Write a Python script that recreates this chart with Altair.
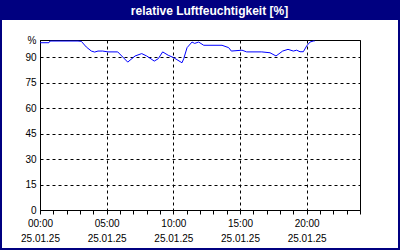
import altair as alt
import pandas as pd

hours = [0.0, 0.67, 0.75, 2.85, 3.1, 3.47, 3.85, 4.1, 4.35, 4.7, 5.1, 5.83, 6.58, 7.13,
         7.63, 8.0, 8.57, 8.87, 9.2, 9.62, 10.03, 10.65, 10.78, 11.03, 11.4, 11.6, 11.9,
         12.28, 13.65, 14.15, 14.35, 15.15, 15.5, 16.63, 17.25, 17.7, 18.2, 18.6, 19.0,
         19.25, 19.5, 19.75, 20.0, 20.25, 20.5, 20.6]
humidity = [98.4, 98.4, 99.4, 99.4, 99.2, 95.9, 93.5, 92.9, 93.5, 93.5, 93.0, 93.0, 87.0, 90.6,
            92.0, 90.6, 87.6, 89.0, 93.0, 91.0, 89.6, 86.6, 89.0, 95.5, 98.8, 98.0, 98.8,
            96.9, 96.9, 95.5, 93.5, 94.0, 93.0, 93.0, 92.5, 90.6, 93.5, 94.5, 93.5,
            94.0, 93.1, 93.1, 96.5, 98.8, 99.4, 99.4]

x_ticks = list(range(0, 25))
y_ticks = [0, 15, 30, 45, 60, 75, 90, 100]
date_label = "25.01.25"
title_text = "relative Luftfeuchtigkeit [%]"

df = pd.DataFrame({"h": hours, "rh": humidity})
one = pd.DataFrame({"a": [0]})

FONT = "Liberation Sans"

x_enc = alt.X(
    "h:Q",
    scale=alt.Scale(domain=[0, 24], nice=False, zero=False),
    axis=alt.Axis(
        title=None,
        values=x_ticks,
        labelExpr=f"datum.value % 5 === 0 && datum.value < 24 ? [(datum.value < 10 ? '0' : '') + datum.value + ':00', '{date_label}'] : ''",
        labelLineHeight=15,
        labelPadding=4,
        labelFont=FONT,
        labelFontSize=10,
        labelColor="black",
        labelAngle=0,
        labelFlush=False,
        labelBound=False,
        labelOverlap=False,
        labelAlign="center",
        ticks=True,
        tickSize=4,
        tickColor="black",
        domainColor="black",
        grid=True,
        gridColor="black",
        gridDash=[3, 3],
        gridOpacity={"condition": {"test": "datum.value % 5 === 0", "value": 1}, "value": 0},
    ),
)

y_enc = alt.Y(
    "rh:Q",
    scale=alt.Scale(domain=[0, 100], nice=False, zero=True),
    axis=alt.Axis(
        title=None,
        values=y_ticks,
        labelExpr="datum.value === 100 ? '%' : datum.label",
        labelFont=FONT,
        labelFontSize=10,
        labelColor="black",
        labelPadding=4,
        labelFlush=False,
        labelOverlap=False,
        ticks=False,
        domainColor="black",
        grid=True,
        gridColor="black",
        gridDash=[3, 3],
    ),
)

line = alt.Chart(df).mark_line(color="#0000ff", strokeWidth=1, interpolate="linear").encode(
    x=x_enc, y=y_enc
)

title_bar = alt.Chart(one).mark_rect(color="#000080").encode(
    x=alt.value(-40), x2=alt.value(360), y=alt.value(-40), y2=alt.value(-20)
)
title = alt.Chart(one).mark_text(
    color="white", font=FONT, fontSize=12, fontWeight="bold", align="center", baseline="middle"
).encode(x=alt.value(169.5), y=alt.value(-29.5), text=alt.value(title_text))
border = alt.Chart(one).mark_rect(fill=None, stroke="#000080", strokeWidth=2).encode(
    x=alt.value(-39), x2=alt.value(359), y=alt.value(-39), y2=alt.value(209)
)

chart = (
    alt.layer(line, title_bar, title, border)
    .properties(
        width=320,
        height=170,
        padding={"left": 40, "top": 40, "right": 40, "bottom": 40},
        autosize=alt.AutoSizeParams(type="none"),
        background="white",
    )
    .configure_view(stroke="black", strokeWidth=1)
)

chart.save("out.html", embed_options={"renderer": "svg", "actions": False})
